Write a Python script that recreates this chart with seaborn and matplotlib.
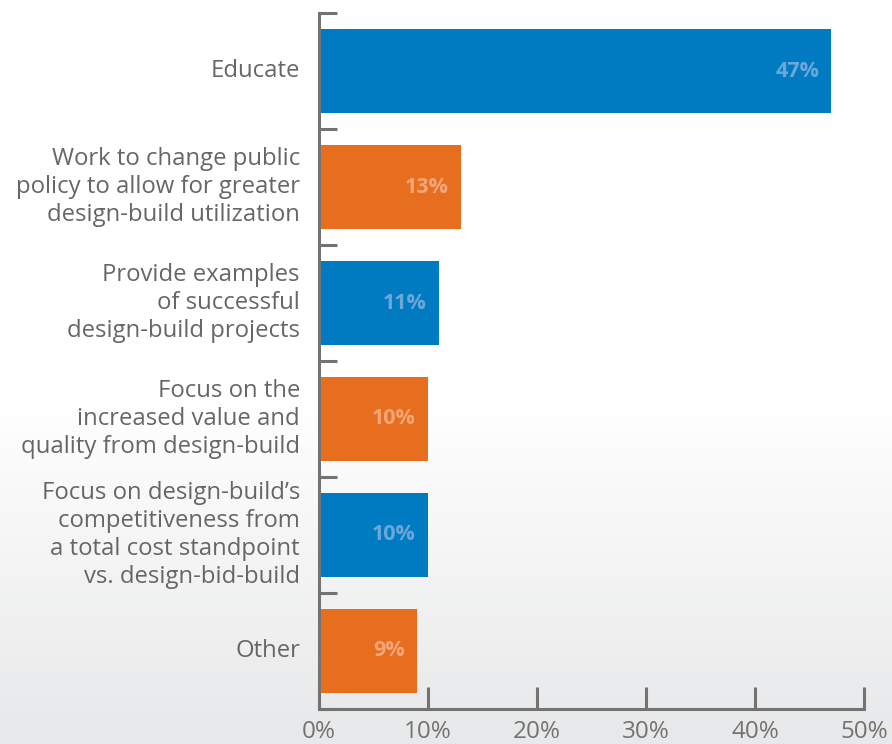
import numpy as np
import pandas as pd
import matplotlib
matplotlib.use("Agg")
import matplotlib.pyplot as plt
from matplotlib.colors import LinearSegmentedColormap
import seaborn as sns

categories = [
    "Educate",
    "Work to change public\npolicy to allow for greater\ndesign-build utilization",
    "Provide examples\nof successful\ndesign-build projects",
    "Focus on the\nincreased value and\nquality from design-build",
    "Focus on design-build\u2019s\ncompetitiveness from\na total cost standpoint\nvs. design-bid-build",
    "Other",
]
values = [47, 13, 11, 10, 10, 9]
x_ticks = [0, 10, 20, 30, 40, 50]
x_tick_labels = ["0%", "10%", "20%", "30%", "40%", "50%"]

BLUE = "#007BC2"
ORANGE = "#E86E1F"
bar_colors = [BLUE, ORANGE, BLUE, ORANGE, BLUE, ORANGE]
label_colors = {BLUE: "#6FA6DA", ORANGE: "#F2A77A"}
AXIS_GRAY = "#737373"
TEXT_GRAY = "#666666"

sns.set_theme(style="white")
plt.rcParams["font.family"] = ["Open Sans", "DejaVu Sans"]

fig = plt.figure(figsize=(8.92, 7.44), dpi=100)

# soft vertical background fade: white upper half, light gray toward the bottom
bg = fig.add_axes([0, 0, 1, 1], zorder=-10)
grad = np.concatenate([np.zeros(400), np.linspace(0, 1, 344)])[:, None]
cmap = LinearSegmentedColormap.from_list("fade", ["#FFFFFF", "#E7E8E9"])
bg.imshow(grad, aspect="auto", cmap=cmap, extent=[0, 1, 0, 1], origin="upper")
bg.set_axis_off()

ax = fig.add_axes([319 / 892, 1 - 709 / 744, (864 - 319) / 892, (709 - 13) / 744])
ax.patch.set_alpha(0)

df = pd.DataFrame({"category": categories, "value": values})
sns.barplot(data=df, x="value", y="category", hue="category", palette=bar_colors,
            legend=False, width=0.72, saturation=1, ax=ax, orient="h",
            edgecolor="none", linewidth=0)

ax.set_xlim(0, 50)
ax.set_ylim(5.5, -0.5)

# value labels inside the bar ends
for i, (v, c) in enumerate(zip(values, bar_colors)):
    ax.text(v - 1.1, i, f"{v}%", ha="right", va="center", fontsize=15.5,
            fontweight="bold", color=label_colors[c])

# axes styling: left and bottom spines only, ticks pointing inward
for s in ["top", "right"]:
    ax.spines[s].set_visible(False)
for s in ["left", "bottom"]:
    ax.spines[s].set_color(AXIS_GRAY)
    ax.spines[s].set_linewidth(2.2)

ax.set_xticks(x_ticks)
ax.set_xticklabels(x_tick_labels)
ax.tick_params(axis="x", direction="in", length=16, width=2.2, color=AXIS_GRAY,
               labelsize=17.5, labelcolor=AXIS_GRAY, pad=8, bottom=True)

# y ticks sit at the category boundaries; labels are drawn separately
ax.set_yticks(np.arange(-0.5, 6.0, 1.0))
ax.set_yticklabels([])
ax.tick_params(axis="y", direction="in", length=13, width=2.2, color=AXIS_GRAY, left=True)
for i, name in enumerate(categories):
    ax.text(-0.035, i, name, transform=ax.get_yaxis_transform(), ha="right",
            va="center", fontsize=17.2, color=TEXT_GRAY, linespacing=1.22,
            multialignment="right")

ax.set_xlabel("")
ax.set_ylabel("")

fig.savefig("out.png", dpi=100)
